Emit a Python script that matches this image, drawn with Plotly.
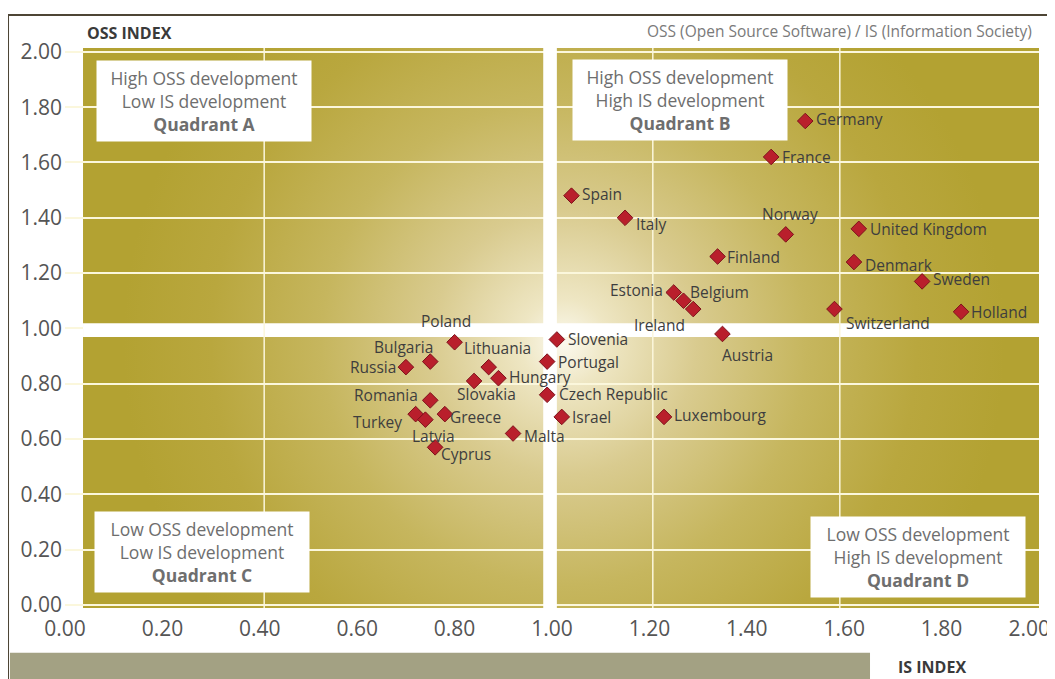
import plotly.graph_objects as go

# datos (IS index en x, OSS index en y)
paises = ['Germany', 'France', 'Spain', 'Italy', 'Norway', 'United Kingdom', 'Finland',
          'Denmark', 'Sweden', 'Estonia', 'Belgium', 'Ireland', 'Switzerland', 'Holland',
          'Austria', 'Slovenia', 'Poland', 'Portugal', 'Russia', 'Bulgaria', 'Lithuania',
          'Hungary', 'Slovakia', 'Czech Republic', 'Romania', 'Turkey', 'Latvia', 'Greece',
          'Israel', 'Luxembourg', 'Malta', 'Cyprus']
is_index = [1.52, 1.45, 1.04, 1.15, 1.48, 1.63, 1.34,
            1.62, 1.76, 1.25, 1.27, 1.29, 1.58, 1.84,
            1.35, 1.01, 0.80, 0.99, 0.70, 0.75, 0.87,
            0.89, 0.84, 0.99, 0.75, 0.72, 0.74, 0.78,
            1.02, 1.23, 0.92, 0.76]
oss_index = [1.75, 1.62, 1.48, 1.40, 1.34, 1.36, 1.26,
             1.24, 1.17, 1.13, 1.10, 1.07, 1.07, 1.06,
             0.98, 0.96, 0.95, 0.88, 0.86, 0.88, 0.86,
             0.82, 0.81, 0.76, 0.74, 0.69, 0.67, 0.69,
             0.68, 0.68, 0.62, 0.57]

y_ticks = [0.0, 0.2, 0.4, 0.6, 0.8, 1.0, 1.2, 1.4, 1.6, 1.8, 2.0]
x_ticks = [0.0, 0.2, 0.4, 0.6, 0.8, 1.0, 1.2, 1.4, 1.6, 1.8, 1.98]  # el último rótulo va algo más adentro
tick_txt = ['0.00', '0.20', '0.40', '0.60', '0.80', '1.00', '1.20', '1.40', '1.60', '1.80', '2.00']

cuadrantes = [
    ('High OSS development<br>Low IS development<br><b>Quadrant A</b>', 0.285, 1.823),
    ('High OSS development<br>High IS development<br><b>Quadrant B</b>', 1.263, 1.826),
    ('Low OSS development<br>Low IS development<br><b>Quadrant C</b>', 0.281, 0.192),
    ('Low OSS development<br>High IS development<br><b>Quadrant D</b>', 1.752, 0.174),
]

# posicion de cada etiqueta: (xanchor, yanchor, xshift, yshift)
pos_etq = {
    'Germany': ('left', 'middle', 9, 2), 'France': ('left', 'middle', 9, 0),
    'Spain': ('left', 'middle', 9, 2), 'Italy': ('left', 'middle', 9, -6),
    'Norway': ('center', 'bottom', 4, 7), 'United Kingdom': ('left', 'middle', 9, 0),
    'Finland': ('left', 'middle', 7, 0), 'Denmark': ('left', 'middle', 9, -3),
    'Sweden': ('left', 'middle', 9, 2), 'Estonia': ('right', 'middle', -9, 2),
    'Belgium': ('left', 'middle', 5, 9), 'Ireland': ('center', 'top', -34, -3),
    'Switzerland': ('left', 'top', 10, -1), 'Holland': ('left', 'middle', 8, 0),
    'Austria': ('left', 'top', -2, -8), 'Slovenia': ('left', 'middle', 9, 0),
    'Poland': ('center', 'bottom', -9, 8), 'Portugal': ('left', 'middle', 9, 0),
    'Russia': ('right', 'middle', -8, 0), 'Bulgaria': ('center', 'bottom', -27, 2),
    'Lithuania': ('center', 'bottom', 9, 6), 'Hungary': ('left', 'middle', 9, 1),
    'Slovakia': ('center', 'top', 12, 0), 'Czech Republic': ('left', 'middle', 10, 1),
    'Romania': ('right', 'middle', -10, 5), 'Turkey': ('right', 'middle', -12, -8),
    'Latvia': ('center', 'top', 8, -3), 'Greece': ('left', 'middle', 3, -3),
    'Israel': ('left', 'middle', 8, 0), 'Luxembourg': ('left', 'middle', 8, 2),
    'Malta': ('left', 'middle', 9, -2), 'Cyprus': ('left', 'middle', 4, -7),
}

fuente = 'Open Sans'

# fondo dorado con degradado radial
svg = ('<svg xmlns="http://www.w3.org/2000/svg" width="954" height="560" viewBox="0 0 954 560" '
       'preserveAspectRatio="none"><defs><radialGradient id="g" gradientUnits="userSpaceOnUse" '
       'cx="480" cy="295" r="440">'
       '<stop offset="0" stop-color="#fbf9ee"/>'
       '<stop offset="0.1" stop-color="#eee6c3"/>'
       '<stop offset="0.3" stop-color="#d9cb8f"/>'
       '<stop offset="0.55" stop-color="#c6b65e"/>'
       '<stop offset="0.8" stop-color="#b9a73e"/>'
       '<stop offset="1" stop-color="#b3a232"/>'
       '</radialGradient></defs><rect width="954" height="560" fill="url(#g)"/></svg>')
svg_uri = 'data:image/svg+xml;charset=utf-8,' + svg.replace('#', '%23').replace('"', "'").replace('<', '%3C').replace('>', '%3E')

fig = go.Figure()

fig.add_trace(go.Scatter(
    x=is_index, y=oss_index, mode='markers', text=paises,
    marker=dict(symbol='diamond', size=12, color='#b91f2c', line=dict(color='#7d121b', width=1)),
    hovertemplate='%{text}<br>IS: %{x:.2f}<br>OSS: %{y:.2f}<extra></extra>',
    showlegend=False,
))

for p, xv, yv in zip(paises, is_index, oss_index):
    xa, ya, xs, ys = pos_etq[p]
    fig.add_annotation(x=xv, y=yv, text=p, showarrow=False, xanchor=xa, yanchor=ya,
                       xshift=xs, yshift=ys, font=dict(family=fuente, size=15.5, color='#3e3e3e'))

for txt, xv, yv in cuadrantes:
    fig.add_annotation(x=xv, y=yv, text=txt, showarrow=False, xanchor='center', yanchor='middle',
                       bgcolor='white', borderpad=7, width=200, height=66, align='center',
                       font=dict(family=fuente, size=17.5, color='#6e6e6e'))

fig.add_layout_image(source=svg_uri, xref='x', yref='y', x=0.037, y=2.014, sizex=1.963,
                     sizey=2.025, sizing='stretch', layer='below', xanchor='left', yanchor='top')

# bandas blancas que separan los cuadrantes
fig.add_shape(type='rect', x0=0.982, x1=1.010, y0=-0.011, y1=2.014, fillcolor='white',
              line_width=0, layer='between')
fig.add_shape(type='rect', x0=0.037, x1=2.0, y0=0.969, y1=1.019, fillcolor='white',
              line_width=0, layer='between')
# líneas verticales de la rejilla
for xv in [0.409, 1.207, 1.591]:
    fig.add_shape(type='line', x0=xv, x1=xv, y0=-0.011, y1=2.014,
                  line=dict(color='#fbf7dc', width=1.5), layer='between')

# marco, barra gris y títulos
fig.add_shape(type='rect', xref='paper', yref='paper', x0=-0.0585, x1=1.0133, y0=-0.2, y1=1.0589,
              line=dict(color='#4d4535', width=2), fillcolor='rgba(0,0,0,0)', layer='above')
fig.add_shape(type='rect', xref='paper', yref='paper', x0=-0.0565, x1=0.8265, y0=-0.13, y1=-0.080,
              line_width=0, fillcolor='#a3a183', layer='above')

fig.add_annotation(xref='paper', yref='paper', x=0.021, y=1.027, text='<b>OSS INDEX</b>',
                   showarrow=False, xanchor='left', yanchor='middle',
                   font=dict(family=fuente, size=16, color='#3a3a3a'))
fig.add_annotation(xref='paper', yref='paper', x=0.853, y=-0.105, text='<b>IS INDEX</b>',
                   showarrow=False, xanchor='left', yanchor='middle',
                   font=dict(family=fuente, size=16, color='#3a3a3a'))
fig.add_annotation(xref='paper', yref='paper', x=0.995, y=1.031,
                   text='OSS (Open Source Software) / IS (Information Society)',
                   showarrow=False, xanchor='right', yanchor='middle',
                   font=dict(family=fuente, size=15.5, color='#7a7a7a'))

fig.update_xaxes(range=[0, 2.0], tickvals=x_ticks, ticktext=tick_txt, showgrid=False,
                 zeroline=False, showline=False, ticks='', ticklabelstandoff=6, automargin=False,
                 ticklabeloverflow='allow', tickfont=dict(family=fuente, size=21, color='#555555'))
fig.update_yaxes(range=[-0.011, 2.014], tickvals=y_ticks, ticktext=tick_txt, showgrid=True,
                 gridcolor='#fbf7dc', gridwidth=1.5, zeroline=False, showline=False, ticks='',
                 ticklabelstandoff=2, automargin=False,
                 tickfont=dict(family=fuente, size=21, color='#555555'))

# la página html añade ~8px de margen al cuerpo: se compensa con el tamaño y los márgenes
fig.update_layout(
    width=1047, height=671,
    margin=dict(l=57, r=16, t=40, b=71),
    paper_bgcolor='white', plot_bgcolor='white',
    font=dict(family=fuente),
)

fig.write_html('out.html')
